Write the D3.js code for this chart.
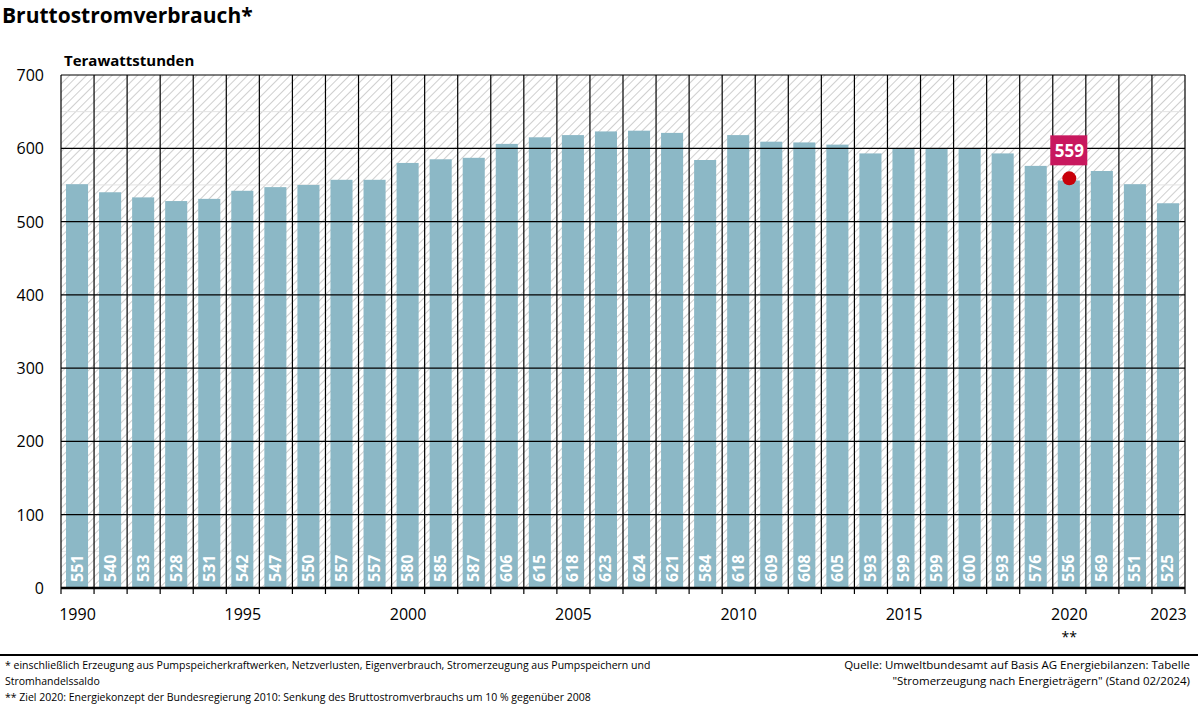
<!DOCTYPE html>
<html lang="en">
<head>
<meta charset="utf-8">
<title>Bruttostromverbrauch</title>
<script src="https://cdn.jsdelivr.net/npm/d3@7"></script>
<style>
	body { margin: 0; background: #fff; }
	text { font-family: "Open Sans", "Noto Sans", sans-serif; }
</style>
</head>
<body>
<div id="chart"></div>
<script>
	var years = d3.range(1990, 2024);
	var values = [551,540,533,528,531,542,547,550,557,557,580,585,587,606,615,618,623,624,621,584,618,609,608,605,593,599,599,600,593,576,556,569,551,525];
	var yTicks = [0,100,200,300,400,500,600,700];
	var xLabels = [1990,1995,2000,2005,2010,2015,2020,2023];
	var targetYear = 2020, targetValue = 559;

	var W = 1198, H = 706;
	var pLeft = 61, pRight = 1185, pTop = 75, pBottom = 588;

	var svg = d3.select("#chart").append("svg").attr("width", W).attr("height", H);

	var defs = svg.append("defs");
	var pat = defs.append("pattern").attr("id", "hatch").attr("patternUnits", "userSpaceOnUse")
		.attr("width", 6).attr("height", 6).attr("patternTransform", "rotate(45)");
	pat.append("rect").attr("width", 6).attr("height", 6).attr("fill", "#fff");
	pat.append("line").attr("x1", 0).attr("y1", 0).attr("x2", 0).attr("y2", 6)
		.attr("stroke", "#cfcfcf").attr("stroke-width", 2);

	var x = d3.scaleBand().domain(years).range([pLeft, pRight]);
	var y = d3.scaleLinear().domain([0, 700]).range([pBottom, pTop]);

	// title
	svg.append("text").attr("x", 2).attr("y", 23).text("Bruttostromverbrauch*")
		.attr("font-size", "21px").attr("font-weight", "bold");
	svg.append("text").attr("x", 64).attr("y", 66).text("Terawattstunden")
		.attr("font-size", "15px").attr("font-weight", "bold");

	// hatched background
	svg.append("rect").attr("x", pLeft).attr("y", pTop).attr("width", pRight - pLeft).attr("height", pBottom - pTop)
		.attr("fill", "url(#hatch)");

	// light half grid
	svg.selectAll(".half").data(d3.range(50, 700, 100)).enter().append("line")
		.attr("x1", pLeft).attr("x2", pRight).attr("y1", d => y(d)).attr("y2", d => y(d))
		.attr("stroke", "#e4e4e4").attr("stroke-width", 1);

	// bars
	svg.selectAll(".bar").data(values).enter().append("rect")
		.attr("x", (d, i) => x(years[i]) + 5)
		.attr("width", x.bandwidth() - 11)
		.attr("y", d => y(d))
		.attr("height", d => y(0) - y(d))
		.attr("fill", "#8cb8c6");

	// grid lines (over bars)
	svg.selectAll(".hg").data(yTicks.slice(1)).enter().append("line")
		.attr("x1", pLeft).attr("x2", pRight).attr("y1", d => y(d)).attr("y2", d => y(d))
		.attr("stroke", "#000").attr("stroke-width", 1.2);
	svg.selectAll(".vg").data(years.concat([2024])).enter().append("line")
		.attr("x1", (d, i) => pLeft + i * x.step()).attr("x2", (d, i) => pLeft + i * x.step())
		.attr("y1", pTop).attr("y2", pBottom + 6)
		.attr("stroke", "#000").attr("stroke-width", 1.2);
	svg.append("line").attr("x1", pLeft).attr("x2", pRight).attr("y1", pBottom).attr("y2", pBottom)
		.attr("stroke", "#000").attr("stroke-width", 2.5);

	// y labels
	svg.selectAll(".yl").data(yTicks).enter().append("text")
		.attr("x", 44).attr("y", d => y(d) + 6).attr("text-anchor", "end")
		.attr("font-size", "16px").text(d => d);

	// x labels
	svg.selectAll(".xl").data(xLabels).enter().append("text")
		.attr("x", d => x(d) + x.bandwidth() / 2).attr("y", 620).attr("text-anchor", "middle")
		.attr("font-size", "16px").text(d => d);
	svg.append("text").attr("x", x(2020) + x.bandwidth() / 2).attr("y", 642).attr("text-anchor", "middle")
		.attr("font-size", "14px").text("**");

	// value labels
	svg.selectAll(".vl").data(values).enter().append("text")
		.attr("transform", (d, i) => "translate(" + (x(years[i]) + x.bandwidth() / 2 + 5) + "," + (pBottom - 6) + ") rotate(-90)")
		.attr("fill", "#fff").attr("font-size", "16px").attr("font-weight", "bold").text(d => d);

	// target
	var tx = x(targetYear) + x.bandwidth() / 2;
	svg.append("circle").attr("cx", tx).attr("cy", y(targetValue)).attr("r", 7).attr("fill", "#c8000a");
	svg.append("rect").attr("x", tx - 19).attr("y", y(targetValue) - 43).attr("width", 37).attr("height", 30).attr("fill", "#c8185e");
	svg.append("text").attr("x", tx).attr("y", y(targetValue) - 21).attr("text-anchor", "middle")
		.attr("fill", "#fff").attr("font-size", "17px").attr("font-weight", "bold").text(targetValue);

	// footer
	svg.append("line").attr("x1", 0).attr("x2", W).attr("y1", 655).attr("y2", 655).attr("stroke", "#000").attr("stroke-width", 2);
	var fn = [
		"* einschließlich Erzeugung aus Pumpspeicherkraftwerken, Netzverlusten, Eigenverbrauch, Stromerzeugung aus Pumpspeichern und",
		"Stromhandelssaldo",
		"** Ziel 2020: Energiekonzept der Bundesregierung 2010: Senkung des Bruttostromverbrauchs um 10 % gegenüber 2008"];
	svg.selectAll(".fn").data(fn).enter().append("text")
		.attr("x", 5).attr("y", (d, i) => 669 + i * 16).attr("font-size", "10.5px").text(d => d);
	var src = ["Quelle: Umweltbundesamt auf Basis AG Energiebilanzen: Tabelle", "\"Stromerzeugung nach Energieträgern\" (Stand 02/2024)"];
	svg.selectAll(".src").data(src).enter().append("text")
		.attr("x", 1190).attr("y", (d, i) => 669 + i * 16).attr("text-anchor", "end")
		.attr("font-family", "'Liberation Serif', serif").attr("font-size", "11.5px").text(d => d);
</script>
</body>
</html>
